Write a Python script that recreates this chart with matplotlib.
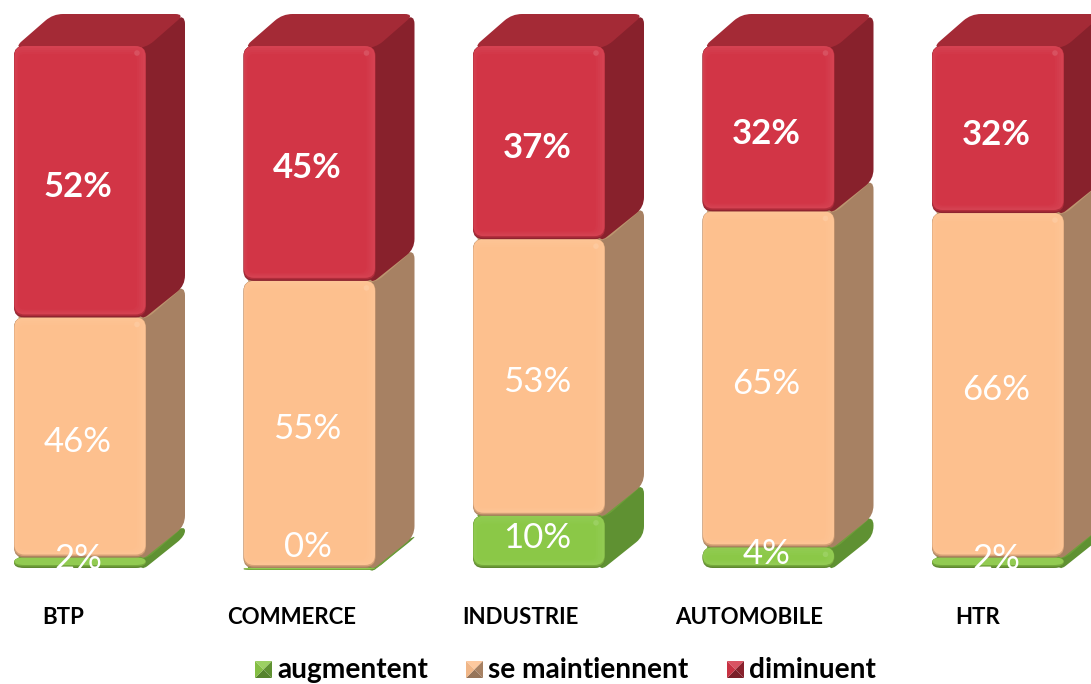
"""Stacked 3D-look bars (100%) by sector, drawn from patches on one full-figure axes."""
import numpy as np
import matplotlib
matplotlib.use("Agg")
import matplotlib.pyplot as plt
from matplotlib.colors import to_rgb
from matplotlib.patches import Circle, PathPatch, Polygon
from matplotlib.path import Path
from matplotlib.transforms import Affine2D, IdentityTransform

CATEGORIES = ["BTP", "COMMERCE", "INDUSTRIE", "AUTOMOBILE", "HTR"]
AUGMENTENT = [2, 0, 10, 4, 2]
MAINTIENNENT = [46, 55, 53, 65, 66]
DIMINUENT = [52, 45, 37, 32, 32]
SERIES = ["augmentent", "se maintiennent", "diminuent"]

W, H = 1091, 684
STEP = 229.5  # px between bars
PCT = 5.22  # px per percent
BASE = 568  # baseline, px from top
FIRST = 80  # first bar centre, px
HALF = 66  # half front width
DX, DY = 39, 32  # depth offset
R = 10

COLORS = {  # face, side, top
    "augmentent": ("#8bc847", "#5f9132", "#6f9f3a"),
    "se maintiennent": ("#fdc08e", "#a78163", "#bd9670"),
    "diminuent": ("#d23546", "#88212c", "#a42a36"),
}
LABEL_SHIFT = [6, 23, 6, 6, 6]  # small labels sit above their segment

plt.rcParams["font.family"] = ["Lato", "DejaVu Sans"]
fig = plt.figure(figsize=(W / 100, H / 100), dpi=100)
ax = fig.add_axes([0, 0, 1, 1])
ax.set_xlim(-FIRST / STEP, (W - FIRST) / STEP)
ax.set_ylim(-(H - BASE) / PCT, BASE / PCT)
ax.axis("off")
DISPLAY = IdentityTransform()
TOPLEFT = Affine2D().scale(1, -1).translate(0, H)  # px measured from top


def mix(color, other, t):
    c, o = np.array(to_rgb(color)), np.array(to_rgb(other))
    return tuple(c + (o - c) * t)


def rounded(pts, r):
    """Closed path through pts with corners cut by quadratic curves."""
    pts = [np.asarray(p, float) for p in pts]
    verts, codes = [], []
    n = len(pts)
    for i, p in enumerate(pts):
        prev, nxt = pts[i - 1], pts[(i + 1) % n]
        rp = min(r, np.linalg.norm(prev - p) / 2)
        rn = min(r, np.linalg.norm(nxt - p) / 2)
        a = p + (prev - p) / np.linalg.norm(prev - p) * rp
        b = p + (nxt - p) / np.linalg.norm(nxt - p) * rn
        verts.append(a)
        codes.append(Path.MOVETO if i == 0 else Path.LINETO)
        verts += [p, b]
        codes += [Path.CURVE3, Path.CURVE3]
    verts.append(verts[0])
    codes.append(Path.CLOSEPOLY)
    return Path(verts, codes)


def shape(pts, color, r=R, z=2):
    ax.add_patch(PathPatch(rounded(pts, r), fc=color, ec="none", transform=DISPLAY, zorder=z))


def box(x0, x1, y0, y1):
    # display coords, y1 above y0
    return [(x0, y0), (x1, y0), (x1, y1), (x0, y1)]


def draw_segment(center, low, high, name):
    """center in bar index, low/high in percent of the stack."""
    face, side, top = COLORS[name]
    (x0, y0), (x1, y1) = ax.transData.transform([(center - HALF / STEP, low), (center + HALF / STEP, high)])
    y0 -= 0 if high - low > 0.5 else 2  # keep a 0% segment visible as a sliver
    h = y1 - y0
    shape([(x1 - 6, y1 + 8), (x1 + DX, y1 + DY), (x1 + DX, y0 + DY), (x1 - 6, y0 - 4)], side)
    shape([(x0, y1 - 2), (x0 + DX, y1 + DY), (x1 + DX, y1 + DY), (x1, y1 - 2)], top)
    # front face, nested layers fake the soft bevel
    shape(box(x0, x1, y0, y1), mix(face, "black", 0.32))
    shape(box(x0, x1, y0 + min(1.5, h / 5), y1), mix(face, "black", 0.16))
    shape(box(x0 + 0.5, x1 - 0.5, y0 + min(3, h / 3), y1), mix(face, "white", 0.06))
    if h > 14:
        ins = min(5, h / 4)
        for step, t in enumerate([0.045, 0.03, 0.015, 0.0]):
            shape(box(x0 + 1 + step, x1 - 3 - 2 * step, y0 + ins + step, y1 - 2 - 2 * step),
                  mix(face, "white", t), r=7)
        ax.add_patch(Circle((x1 - 9, y1 - 7), 2.8, fc=mix(face, "white", 0.14), ec="none",
                            transform=DISPLAY, zorder=2))


def swatch(x, y, s, name):
    face, side, top = COLORS[name]
    c = (x + s / 2, y + s / 2)
    corners = [(x, y), (x + s, y), (x + s, y + s), (x, y + s)]
    shades = [mix(face, "white", 0.15), side, mix(side, "black", 0.1), mix(face, "black", 0.05)]
    for i, col in enumerate(shades):
        ax.add_patch(Polygon([corners[i], corners[(i + 1) % 4], c], fc=col, ec="none",
                             transform=TOPLEFT, zorder=3))


xs = np.arange(len(CATEGORIES))
stack = np.array([AUGMENTENT, MAINTIENNENT, DIMINUENT], dtype=float)
shares = stack / stack.sum(axis=0) * 100
bottoms = np.vstack([np.zeros(len(xs)), np.cumsum(shares, axis=0)[:-1]])

for i in xs:
    for s, name in enumerate(SERIES):
        draw_segment(i, bottoms[s, i], bottoms[s, i] + shares[s, i], name)

for i in xs:
    for s, name in enumerate(SERIES):
        mid = bottoms[s, i] + shares[s, i] / 2
        shift = (LABEL_SHIFT[i] - 2) / PCT if s == 0 else -5 / PCT
        ax.text(i - 2 / STEP, mid + shift, f"{int(stack[s, i])}%", color="white", fontsize=25,
                fontweight="bold" if s == 2 else "normal", ha="center", va="center", zorder=5)
    ax.text(i - 17 / STEP - i * 0.9 / STEP, -49 / PCT, CATEGORIES[i], fontsize=16, fontweight="bold", color="black",
            ha="center", va="center", zorder=5)

legend_x = [(255, 277), (466, 488), (727, 749)]
for (sx, tx), name in zip(legend_x, SERIES):
    swatch(sx, 661, 17, name)
    ax.text(tx, 670, name, transform=TOPLEFT, fontsize=20.2, fontweight="bold", color="black",
            ha="left", va="center", zorder=5)

fig.savefig("out.png", dpi=100)
